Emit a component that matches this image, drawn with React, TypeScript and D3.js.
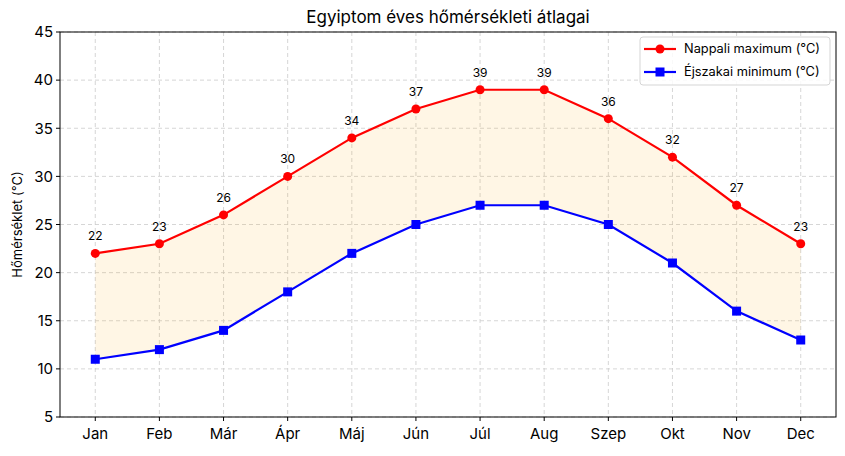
import React from "react";
import * as d3 from "d3";

const months = ["Jan", "Feb", "Már", "Ápr", "Máj", "Jún", "Júl", "Aug", "Szep", "Okt", "Nov", "Dec"];
const maxTemps = [22, 23, 26, 30, 34, 37, 39, 39, 36, 32, 27, 23];
const minTemps = [11, 12, 14, 18, 22, 25, 27, 27, 25, 21, 16, 13];
const yTicks = [5, 10, 15, 20, 25, 30, 35, 40, 45];

const W = 845, H = 456;
const L = 60, R = 836, T = 32, B = 417;
const FONT = "Inter, 'Noto Sans', sans-serif";

export default function App() {
  const x = d3.scaleLinear().domain([-0.55, 11.55]).range([L, R]);
  const y = d3.scaleLinear().domain([5, 45]).range([B, T]);
  const idx = months.map((_, i) => i);
  const lineMax = d3.line<number>().x(i => x(i)).y(i => y(maxTemps[i]))(idx)!;
  const lineMin = d3.line<number>().x(i => x(i)).y(i => y(minTemps[i]))(idx)!;
  const area = d3.area<number>().x(i => x(i)).y0(i => y(minTemps[i])).y1(i => y(maxTemps[i]))(idx)!;

  return (
    <svg width={W} height={H} style={{ position: "absolute", left: 0, top: 0 }} fontFamily={FONT}>
      <rect width={W} height={H} fill="white" />
      {idx.map(i => (
        <line key={"gx" + i} x1={x(i)} x2={x(i)} y1={T} y2={B} stroke="#cccccc" strokeWidth={0.8} strokeDasharray="4,3" />
      ))}
      {yTicks.map(t => (
        <line key={"gy" + t} x1={L} x2={R} y1={y(t)} y2={y(t)} stroke="#cccccc" strokeWidth={0.8} strokeDasharray="4,3" />
      ))}
      <path d={area} fill="orange" fillOpacity={0.1} />
      <path d={lineMax} fill="none" stroke="red" strokeWidth={2.2} />
      <path d={lineMin} fill="none" stroke="blue" strokeWidth={2.2} />
      {idx.map(i => (
        <circle key={"c" + i} cx={x(i)} cy={y(maxTemps[i])} r={4.5} fill="red" />
      ))}
      {idx.map(i => (
        <rect key={"s" + i} x={x(i) - 4.5} y={y(minTemps[i]) - 4.5} width={9} height={9} fill="blue" />
      ))}
      {idx.map(i => (
        <text key={"l" + i} x={x(i)} y={y(maxTemps[i]) - 13} textAnchor="middle" fontSize={12} fill="#000">
          {maxTemps[i]}
        </text>
      ))}
      <rect x={L} y={T} width={R - L} height={B - T} fill="none" stroke="black" strokeWidth={1} />
      {yTicks.map(t => (
        <g key={"yt" + t}>
          <line x1={L - 4} x2={L} y1={y(t)} y2={y(t)} stroke="black" />
          <text x={L - 7} y={y(t)} dy="0.35em" textAnchor="end" fontSize={15} fill="#000">{t}</text>
        </g>
      ))}
      {idx.map(i => (
        <g key={"xt" + i}>
          <line x1={x(i)} x2={x(i)} y1={B} y2={B + 4} stroke="black" />
          <text x={x(i)} y={B + 22} textAnchor="middle" fontSize={15} fill="#000">{months[i]}</text>
        </g>
      ))}
      <text x={17} y={(T + B) / 2} transform={`rotate(-90, 17, ${(T + B) / 2})`} dy="0.35em" textAnchor="middle" fontSize={13} fill="#000">
        Hőmérséklet (°C)
      </text>
      <text x={(L + R) / 2} y={23} textAnchor="middle" fontSize={17} fill="#000">Egyiptom éves hőmérsékleti átlagai</text>
      <g>
        <rect x={640} y={37} width={190} height={48} rx={3} fill="white" fillOpacity={0.85} stroke="#d5d5d5" />
        <line x1={644} x2={676} y1={49} y2={49} stroke="red" strokeWidth={2.2} />
        <circle cx={660} cy={49} r={4.5} fill="red" />
        <text x={684} y={49} dy="0.35em" fontSize={12.8} fill="#000">Nappali maximum (°C)</text>
        <line x1={644} x2={676} y1={72} y2={72} stroke="blue" strokeWidth={2.2} />
        <rect x={655.5} y={67.5} width={9} height={9} fill="blue" />
        <text x={684} y={72} dy="0.35em" fontSize={12.8} fill="#000">Éjszakai minimum (°C)</text>
      </g>
    </svg>
  );
}
